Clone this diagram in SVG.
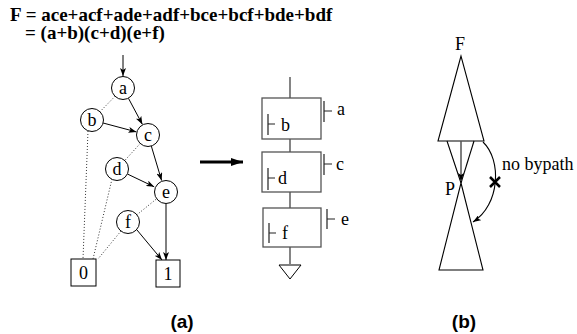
<svg xmlns="http://www.w3.org/2000/svg" width="577" height="334" viewBox="0 0 577 334">
<style>
.t{font-family:"Liberation Serif","Times New Roman",serif;font-size:18px;fill:#000}
.tb{font-family:"Liberation Serif","Times New Roman",serif;font-size:19px;font-weight:bold;fill:#000}
.cap{font-family:"Liberation Sans",Arial,sans-serif;font-size:19px;font-weight:bold;fill:#000}
.n{fill:#fff;stroke:#000;stroke-width:1}
.e{stroke:#000;stroke-width:1;fill:none}
.d{stroke:#333;stroke-width:1;stroke-dasharray:1,2;fill:none}
.g{stroke:#555;stroke-width:1.3;fill:#fff}
</style>
<defs>
<marker id="ah" markerWidth="8" markerHeight="6" refX="8" refY="3" orient="auto" markerUnits="userSpaceOnUse"><path d="M0,0 L8,3 L0,6 L2,3 Z" fill="#000"/></marker>
<marker id="big" markerWidth="12" markerHeight="8" refX="12" refY="4" orient="auto" markerUnits="userSpaceOnUse"><path d="M0,0 L12,4 L0,8 Z" fill="#000"/></marker>
</defs>
<text class="tb" x="10" y="21">F = ace+acf+ade+adf+bce+bcf+bde+bdf</text>
<text class="tb" x="25" y="39">= (a+b)(c+d)(e+f)</text>
<g id="connectors">
<line class="e" x1="123" y1="55" x2="123" y2="76" marker-end="url(#ah)"/>
<line class="e" x1="128.4" y1="98.2" x2="142.4" y2="124.4" marker-end="url(#ah)"/>
<line class="e" x1="103.1" y1="123" x2="136.4" y2="131.9" marker-end="url(#ah)"/>
<line class="e" x1="151.3" y1="146" x2="161.6" y2="180.5" marker-end="url(#ah)"/>
<line class="e" x1="127.4" y1="174" x2="154.2" y2="186.8" marker-end="url(#ah)"/>
<line class="e" x1="166" y1="204" x2="166" y2="260" marker-end="url(#ah)"/>
<line class="e" x1="137" y1="230" x2="162" y2="260" marker-end="url(#ah)"/>
<line class="d" x1="115" y1="96.3" x2="100" y2="111.7"/>
<line class="d" x1="140.2" y1="143.5" x2="124.8" y2="160.5"/>
<line class="d" x1="156" y1="199.3" x2="137" y2="214.7"/>
<line class="d" x1="88" y1="131" x2="83" y2="259"/>
<line class="d" x1="112" y1="179" x2="93" y2="259"/>
<line class="d" x1="121" y1="231" x2="98" y2="259"/>
<line x1="200" y1="162" x2="243" y2="162" stroke="#000" stroke-width="3" marker-end="url(#big)"/>
</g>
<g id="node-a"><circle class="n" cx="123" cy="88" r="11.5"/><text class="t" x="123" y="94" text-anchor="middle">a</text></g>
<g id="node-b"><circle class="n" cx="92" cy="120" r="11.5"/><text class="t" x="92" y="126" text-anchor="middle">b</text></g>
<g id="node-c"><circle class="n" cx="148" cy="135" r="11.5"/><text class="t" x="148" y="141" text-anchor="middle">c</text></g>
<g id="node-d"><circle class="n" cx="117" cy="169" r="11.5"/><text class="t" x="117" y="175" text-anchor="middle">d</text></g>
<g id="node-e"><circle class="n" cx="166" cy="192" r="11.5"/><text class="t" x="166" y="198" text-anchor="middle">e</text></g>
<g id="node-f"><circle class="n" cx="128" cy="222" r="11.5"/><text class="t" x="128" y="228" text-anchor="middle">f</text></g>
<g id="node-0"><rect class="n" x="71" y="259" width="25" height="27"/><text class="t" x="83.5" y="279" text-anchor="middle">0</text></g>
<g id="node-1"><rect class="n" x="156" y="260" width="24" height="27"/><text class="t" x="168" y="280" text-anchor="middle">1</text></g>
<g id="chain" stroke="#333" stroke-width="1.2">
<line x1="290" y1="77" x2="290" y2="98"/>
<line x1="290" y1="139" x2="290" y2="152"/>
<line x1="290" y1="192" x2="290" y2="208"/>
<line x1="290" y1="247" x2="290" y2="264"/>
</g>
<g id="box-b"><rect class="g" x="262" y="98" width="59" height="41"/>
<path d="M268,114 V135 M268,124 H275 M324,101 V122 M324,111 H332" stroke="#222" stroke-width="1.2" fill="none"/>
<text class="t" x="281" y="131">b</text><text class="t" x="337" y="115">a</text></g>
<g id="box-d"><rect class="g" x="262" y="152" width="59" height="40"/>
<path d="M268,168 V190 M268,178 H275 M324,154 V175 M324,164 H332" stroke="#222" stroke-width="1.2" fill="none"/>
<text class="t" x="278" y="184">d</text><text class="t" x="336" y="170">c</text></g>
<g id="box-f"><rect class="g" x="263" y="208" width="58" height="39"/>
<path d="M269,223 V243 M269,233 H276 M327,209 V229 M327,219 H335" stroke="#222" stroke-width="1.2" fill="none"/>
<text class="t" x="282" y="239">f</text><text class="t" x="341" y="225">e</text></g>
<g id="ground"><path d="M279,265 H301 L290,279 Z" fill="#fff" stroke="#000" stroke-width="1"/></g>
<g id="part-b" stroke="#000" stroke-width="1.1" fill="none">
<path d="M461,56 L438,141 H484 Z"/>
<path d="M439,270 H483 L461,183 Z"/>
<line x1="447" y1="141" x2="461" y2="183"/>
<line x1="474" y1="141" x2="461" y2="183"/>
<line x1="461" y1="141" x2="461" y2="181" stroke="#555" stroke-width="1.5" marker-end="url(#ah)"/>
<path d="M483,142 C502,160 500,205 473,222" marker-end="url(#ah)"/>
<path d="M490,177 L500,187 M500,177 L490,187" stroke-width="2.5"/>
</g>
<text class="t" x="460" y="50" text-anchor="middle">F</text>
<text class="t" x="445" y="195">P</text>
<text class="t" x="502" y="170">no bypath</text>
<text class="cap" x="182" y="328" text-anchor="middle">(a)</text>
<text class="cap" x="464" y="328" text-anchor="middle">(b)</text>
</svg>
